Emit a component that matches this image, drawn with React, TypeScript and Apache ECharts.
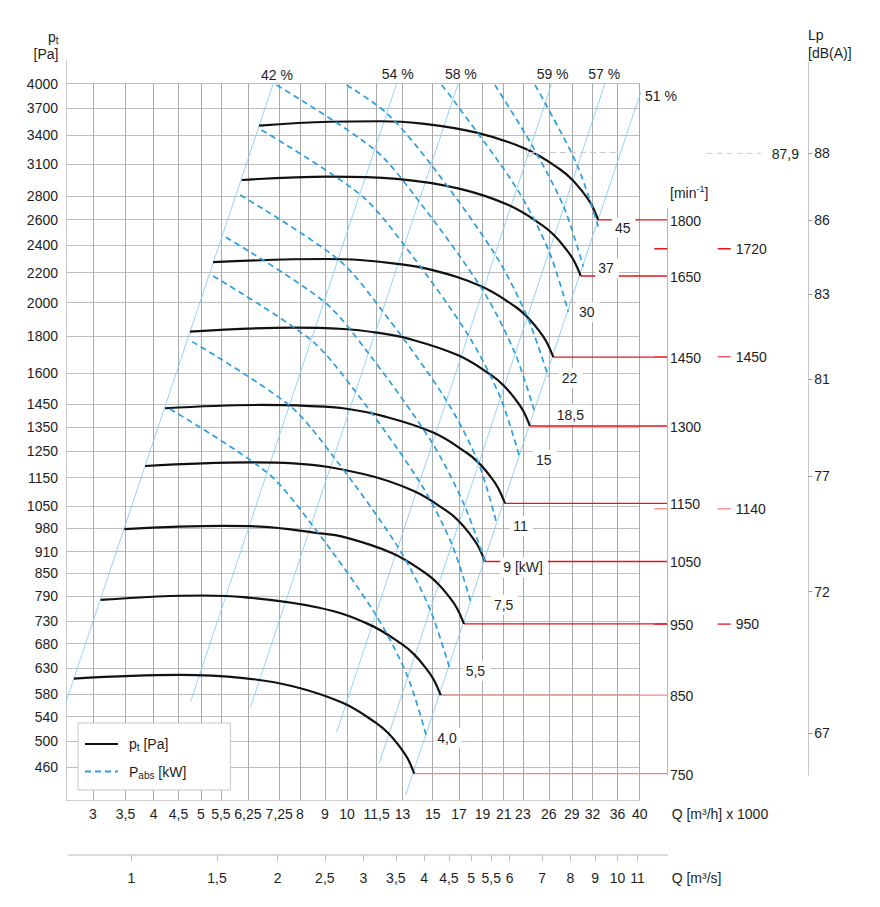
import React, { useEffect, useRef } from "react";
import * as echarts from "echarts";

const FONT = '"Liberation Sans", Arial, Helvetica, sans-serif';
const TEXT = "#1e1e1e";

// ---------------- tick labels ----------------
const flowTicks = [3, 3.5, 4, 4.5, 5, 5.5, 6.25, 7.25, 8, 9, 10, 11.5, 13, 15, 17, 19, 21, 23, 26, 29, 32, 36, 40];
const flowSecTicks = [1, 1.5, 2, 2.5, 3, 3.5, 4, 4.5, 5, 5.5, 6, 7, 8, 9, 10, 11];
const pressureTicks = [460, 500, 540, 580, 630, 680, 730, 790, 850, 910, 980, 1050, 1150, 1250, 1350, 1450, 1600, 1800, 2000, 2200, 2400, 2600, 2800, 3100, 3400, 3700, 4000];
const lpTickRpm = [2000, 1800, 1600, 1400, 1200, 1000, 800];
const lpTickLabels = ["88", "86", "83", "81", "77", "72", "67"];

// ---------------- fan curves pt [Pa] vs Q [m3/h x 1000] ----------------
const speeds = [1800, 1650, 1450, 1300, 1150, 1050, 950, 850, 750];
const pt1800 = [[6.59, 3500], [9.22, 3544], [11.68, 3550], [14.12, 3527], [18.47, 3424], [23.4, 3249], [27.41, 3050], [29.06, 2951], [30.62, 2832], [31.8, 2730], [32.87, 2598]];
const pt1650 = [[6.07, 2948], [9.22, 2979], [12.65, 2958], [17.0, 2868], [21.54, 2721], [25.23, 2554], [26.74, 2471], [28.17, 2372], [29.26, 2287], [30.25, 2176]];
const pt1450 = [[5.3, 2273], [9.08, 2296], [10.63, 2289], [12.45, 2265], [14.93, 2218], [18.92, 2105], [22.16, 1976], [23.49, 1911], [24.75, 1835], [25.7, 1769], [26.57, 1683]];
const pt1300 = [[4.75, 1825], [7.75, 1848], [9.82, 1840], [11.5, 1819], [13.36, 1785], [16.93, 1693], [19.83, 1589], [21.02, 1538], [22.15, 1476], [23.0, 1423], [23.78, 1354]];
const pt1150 = [[4.22, 1432], [6.62, 1447], [8.39, 1442], [9.82, 1432], [11.87, 1397], [15.04, 1326], [17.62, 1244], [18.68, 1204], [19.68, 1156], [20.44, 1114], [21.13, 1060]];
const pt1050 = [[3.84, 1193], [6.31, 1207], [7.75, 1203], [10.8, 1163], [13.68, 1103], [16.03, 1035], [16.99, 1002], [17.9, 961.6], [18.59, 926.9], [19.22, 882]];
const pt950 = [[3.48, 977], [5.56, 987], [6.62, 985], [8.79, 964], [9.78, 954.3], [12.39, 905.5], [14.51, 849.9], [15.38, 822.2], [16.21, 789.3], [16.83, 760.9], [17.4, 724]];
const pt850 = [[3.11, 781], [5.06, 792], [6.12, 788], [8.76, 761.9], [11.09, 722.9], [12.99, 678.5], [13.77, 656.4], [14.51, 630.1], [15.07, 607.4], [15.58, 578]];
const pt750 = [[2.74, 609], [4.53, 616], [6.12, 610], [7.73, 594.5], [9.79, 564.1], [11.47, 529.4], [12.16, 512.2], [12.81, 491.7], [13.3, 474], [13.75, 451]];
const ptCurves = [pt1800, pt1650, pt1450, pt1300, pt1150, pt1050, pt950, pt850, pt750];

// ---------------- absorbed power lines [kW] ----------------
const powerLabels = ["4,0", "5,5", "7,5", "9 [kW]", "11", "15", "18,5", "22", "30", "37", "45"];
const pw40 = [[4.32, 1429], [6.84, 1169], [8.44, 993.5], [11.4, 749], [13.3, 614.5], [14.58, 506]];
const pw55 = [[4.8, 1768], [7.6, 1446], [9.38, 1228], [12.69, 926], [14.79, 760], [16.28, 627]];
const pw75 = [[5.3, 2176], [8.43, 1777], [10.4, 1510], [14.06, 1138], [16.4, 934], [18.04, 769]];
const pw90 = [[5.63, 2460], [8.96, 2007], [11.06, 1705], [14.94, 1286], [17.42, 1055], [19.22, 882]];
const pw110 = [[6.03, 2811], [9.58, 2294], [11.82, 1949], [15.98, 1471], [18.63, 1205], [20.31, 995]];
const pw150 = [[6.67, 3453], [10.62, 2819], [13.11, 2399], [17.72, 1808], [20.66, 1483], [22.68, 1223]];
const pw185 = [[7.16, 3981], [11.39, 3245], [14.06, 2756], [19.01, 2081], [22.15, 1705], [24.36, 1410]];
const pw220 = [[9.98, 3981], [12.07, 3641], [14.89, 3095], [20.13, 2333], [23.47, 1914], [25.94, 1583]];
const pw300 = [[15.65, 3981], [16.51, 3804], [22.33, 2871], [26.03, 2353], [28.52, 1944]];
const pw370 = [[20.15, 3981], [23.94, 3301], [27.92, 2707], [30.62, 2241]];
const pw450 = [[24.36, 3981], [25.56, 3761], [29.79, 3083], [32.87, 2544]];
const powerLines = [pw40, pw55, pw75, pw90, pw110, pw150, pw185, pw220, pw300, pw370, pw450];

// ---------------- efficiency (system) lines ----------------
const effLabels = ["42 %", "54 %", "58 %", "59 %", "57 %", "51 %"];
const eff42 = [[2.64, 565.6], [7.05, 4000]];
const eff54 = [[4.766, 566.1], [12.65, 4000]];
const eff58 = [[6.333, 557.3], [16.93, 4000]];
const eff59 = [[9.517, 513.8], [26.36, 4000]];
const eff57 = [[11.63, 465], [33.93, 4000]];
const eff51 = [[13.2, 421.5], [40.24, 3897]];
const effLines = [eff42, eff54, eff58, eff59, eff57, eff51];

// ---------------- sound level ----------------
const soundRpm = [1720, 1450, 1140, 950];
const soundRefLabel = "87,9";
const soundRefRpm = 2000;
const soundRefPoint = [23.78, 3215];
const soundRefEndQ = 36;

// ---------------- layout (styles, not data) ----------------
const Q_MIN = 2.64;
const Q_MAX_A = 40.05;
const Q_MAX_B = 45.51;
const P_MIN = 414.8;
const P_MAX = 4000;
const QS_MIN = 0.7438;
const QS_MAX = 12.667;
const RPM_MIN = 748.3;
const RPM_MAX = 2311;
const effLabelOffsets = [[-12.3, -8.5], [-15, -9.2], [-13.3, -9.2], [-15, -9.2], [-16.7, -9.2], [4, 4.3]];
const powerLabelOffsets = [[7.6, 0.4], [12.7, 1.4], [19.3, 0], [15.3, 6], [13.6, 2.7], [13, 1.7], [18.7, 1.7], [10.4, 1], [7.7, 0.6], [12, 1.6], [13.7, 1]];
const redColors = ["#e3141c", "#e3141c", "#e3141c", "#e3141c", "#e3141c", "#e3141c", "#e3141c", "#f2877e", "#f2877e"];
const soundColors = ["#e3141c", "#e8484a", "#f2877e", "#e3141c"];
const lpDashRpmAxis = [654.3, 667.3];
const lpDashLpAxis = [717.7, 730.7];
const lpRefDash = [706.7, 761.7];

const fmt = (v: number) => String(Math.round(v * 100) / 100).replace(".", ",");
const lpFmt = (v: number) => {
  let best = 0;
  for (let i = 0; i < lpTickRpm.length; i++) {
    if (Math.abs(lpTickRpm[i] - v) < Math.abs(lpTickRpm[best] - v)) best = i;
  }
  return lpTickLabels[best];
};

const labelFont = { color: TEXT, fontSize: 14, fontFamily: FONT };

function buildOption() {
  const series: any[] = [];
  const gB = { xAxisIndex: 1, yAxisIndex: 1 };
  const gLp = { xAxisIndex: 2, yAxisIndex: 2 };

  effLines.forEach((d, i) => {
    series.push({
      type: "line", ...gB, data: d, symbol: "none", showSymbol: false, silent: true, clip: false, z: 2,
      lineStyle: { color: "#8bcdef", width: 0.9 },
      endLabel: { show: true, formatter: () => effLabels[i], distance: 0, offset: effLabelOffsets[i], ...labelFont },
    });
  });

  speeds.forEach((n, i) => {
    const end = ptCurves[i][ptCurves[i].length - 1];
    series.push({
      type: "line", ...gB, data: [end, [Q_MAX_B, end[1]]], symbol: "none", showSymbol: false, silent: true, z: 3,
      lineStyle: { color: redColors[i], width: 1.3 },
      endLabel: { show: true, formatter: () => String(n), distance: 3, offset: [0, 1], ...labelFont },
    });
  });

  ptCurves.forEach((d) => {
    series.push({
      name: "pt", type: "line", ...gB, data: d, symbol: "none", showSymbol: false, silent: true, z: 4,
      smooth: 0.4,
      itemStyle: { color: "#111111" },
      lineStyle: { color: "#111111", width: 2.2 },
    });
  });

  powerLines.forEach((d, i) => {
    series.push({
      name: "Pabs", type: "line", ...gB, data: d, symbol: "none", showSymbol: false, silent: true, z: 5,
      smooth: 0.3,
      itemStyle: { color: "#2a9fe0" },
      lineStyle: { color: "#2a9fe0", width: 1.7, type: [6, 4] },
      endLabel: {
        show: true, formatter: () => powerLabels[i], distance: 0, offset: powerLabelOffsets[i],
        backgroundColor: "#ffffff", padding: [3, 5, 3, 3], ...labelFont,
      },
    });
  });

  // sound reference point on the 1800 curve
  series.push({
    type: "line", ...gB, data: [soundRefPoint, [soundRefEndQ, soundRefPoint[1]]], symbol: "none", silent: true, z: 6,
    lineStyle: { color: "#c8c8c8", width: 1, type: [6, 4] },
  });
  series.push({
    type: "scatter", ...gB, data: [soundRefPoint], symbol: "circle", symbolSize: 7, silent: true, z: 7,
    itemStyle: { color: "rgba(255,255,255,0)", borderColor: "#b0b0b0", borderWidth: 1 },
  });

  // Lp side marks
  soundRpm.forEach((n, i) => {
    series.push({
      type: "line", ...gLp, data: [[lpDashRpmAxis[0], n], [lpDashRpmAxis[1], n]], symbol: "none", silent: true, z: 6,
      lineStyle: { color: soundColors[i], width: 1.3 },
    });
    series.push({
      type: "line", ...gLp, data: [[lpDashLpAxis[0], n], [lpDashLpAxis[1], n]], symbol: "none", silent: true, z: 6,
      lineStyle: { color: soundColors[i], width: 1.3 },
      endLabel: { show: true, formatter: () => String(n), distance: 5, offset: [0, 0], ...labelFont },
    });
  });
  series.push({
    type: "line", ...gLp, data: [[lpRefDash[0], soundRefRpm], [lpRefDash[1], soundRefRpm]], symbol: "none", silent: true, z: 6,
    lineStyle: { color: "#cfcfcf", width: 1, type: [6, 4] },
    endLabel: { show: true, formatter: () => soundRefLabel, distance: 10, offset: [0, 0.7], ...labelFont },
  });

  const hiddenLog = (gridIndex: number, min: number, max: number) => ({ gridIndex, type: "log", min, max, show: false });

  return {
    animation: false,
    backgroundColor: "#ffffff",
    textStyle: { fontFamily: FONT },
    grid: [
      { left: 66, top: 83.5, width: 573.96, height: 716.5 },
      { left: 66, top: 83.5, width: 600.9, height: 716.5 },
      { left: 654, top: 62, width: 154.3, height: 713 },
      { left: 667, top: 208.3, width: 10, height: 566.7 },
      { left: 69, top: 845, width: 598.3, height: 10 },
    ],
    xAxis: [
      {
        gridIndex: 0, type: "log", min: Q_MIN, max: Q_MAX_A, position: "bottom",
        axisLine: { show: true, onZero: false, lineStyle: { color: "#d0d0d0", width: 1 } },
        axisTick: { show: false, customValues: flowTicks },
        axisLabel: { customValues: flowTicks, formatter: fmt, margin: 7, ...labelFont },
        splitLine: { show: true, lineStyle: { color: "#a9a9a9", width: 1 } },
        minorTick: { show: false }, minorSplitLine: { show: false },
      },
      hiddenLog(1, Q_MIN, Q_MAX_B),
      { gridIndex: 2, type: "value", min: 654, max: 808.3, show: false },
      { gridIndex: 3, type: "value", min: 0, max: 1, show: false },
      {
        gridIndex: 4, type: "log", min: QS_MIN, max: QS_MAX, position: "bottom",
        axisLine: { show: true, onZero: false, lineStyle: { color: "#d0d0d0", width: 1.5 } },
        axisTick: { show: true, customValues: flowSecTicks, length: 6, lineStyle: { color: "#bdbdbd" } },
        axisLabel: { customValues: flowSecTicks, formatter: fmt, margin: 16, ...labelFont },
        splitLine: { show: false },
      },
    ],
    yAxis: [
      {
        gridIndex: 0, type: "log", min: P_MIN, max: P_MAX, position: "left",
        axisLine: { show: true, onZero: false, lineStyle: { color: "#c8c8c8", width: 1 } },
        axisTick: { show: false, customValues: pressureTicks },
        axisLabel: { customValues: pressureTicks, formatter: (v: number) => String(Math.round(v)), margin: 8, ...labelFont },
        splitLine: { show: true, lineStyle: { color: "#bdbdbd", width: 1 } },
        minorTick: { show: false }, minorSplitLine: { show: false },
      },
      hiddenLog(1, P_MIN, P_MAX),
      {
        gridIndex: 2, type: "log", min: RPM_MIN, max: RPM_MAX, position: "right",
        axisLine: { show: true, onZero: false, lineStyle: { color: "#c8c8c8", width: 1 } },
        axisTick: { show: true, customValues: lpTickRpm, length: 4, lineStyle: { color: "#9a9a9a" } },
        axisLabel: { customValues: lpTickRpm, formatter: lpFmt, margin: 6, ...labelFont },
        splitLine: { show: false },
      },
      {
        gridIndex: 3, type: "value", min: 0, max: 1, position: "left",
        axisLine: { show: true, onZero: false, lineStyle: { color: "#b5b5b5", width: 1 } },
        axisTick: { show: false }, axisLabel: { show: false }, splitLine: { show: false },
      },
      { gridIndex: 4, type: "value", min: 0, max: 1, show: false },
    ],
    legend: {
      data: ["pt", "Pabs"], left: 78, top: 723, orient: "vertical", selectedMode: false,
      itemWidth: 33, itemHeight: 14, itemGap: 12, padding: [14, 44, 10, 6],
      backgroundColor: "#ffffff", borderColor: "#c8c8c8", borderWidth: 1, z: 10,
      itemStyle: { opacity: 0 },
      formatter: (name: string) => (name === "pt" ? "{a0|p}{s|t}{a| [Pa]}" : "{a0|P}{s|abs}{a| [kW]}"),
      textStyle: {
        color: TEXT, fontFamily: FONT, fontSize: 14,
        rich: {
          a0: { color: TEXT, fontFamily: FONT, fontSize: 14, padding: [0, 0, 0, 6] },
          a: { color: TEXT, fontFamily: FONT, fontSize: 14 },
          s: { color: TEXT, fontFamily: FONT, fontSize: 10, padding: [7, 0, 0, 0] },
        },
      },
    },
    graphic: [
      { type: "line", silent: true, z: 10, shape: { x1: 66.5, y1: 60, x2: 66.5, y2: 84 }, style: { stroke: "#c8c8c8", lineWidth: 1 } },
      {
        type: "text", silent: true, z: 10, x: 58.5, y: 37,
        style: {
          text: "{a|p}{s|t}", align: "right", verticalAlign: "middle",
          rich: { a: { fontSize: 14, fontFamily: FONT, fill: TEXT }, s: { fontSize: 10, fontFamily: FONT, fill: TEXT, padding: [6, 0, 0, 0] } },
        },
      },
      { type: "text", silent: true, z: 10, x: 58.5, y: 53.5, style: { text: "[Pa]", fontSize: 14, fontFamily: FONT, fill: TEXT, align: "right", verticalAlign: "middle" } },
      { type: "text", silent: true, z: 10, x: 808, y: 35, style: { text: "Lp", fontSize: 14, fontFamily: FONT, fill: TEXT, align: "left", verticalAlign: "middle" } },
      { type: "text", silent: true, z: 10, x: 808, y: 53.3, style: { text: "[dB(A)]", fontSize: 14, fontFamily: FONT, fill: TEXT, align: "left", verticalAlign: "middle" } },
      {
        type: "text", silent: true, z: 10, x: 670, y: 192.7,
        style: {
          text: "{a|[min}{u|-1}{a|]}", align: "left", verticalAlign: "middle",
          rich: { a: { fontSize: 14, fontFamily: FONT, fill: TEXT }, u: { fontSize: 9, fontFamily: FONT, fill: TEXT, padding: [0, 0, 7, 0] } },
        },
      },
      { type: "text", silent: true, z: 10, x: 671.7, y: 814, style: { text: "Q [m³/h] x 1000", fontSize: 14, fontFamily: FONT, fill: TEXT, align: "left", verticalAlign: "middle" } },
      { type: "text", silent: true, z: 10, x: 671.7, y: 877.7, style: { text: "Q [m³/s]", fontSize: 14, fontFamily: FONT, fill: TEXT, align: "left", verticalAlign: "middle" } },
    ],
    series,
  };
}

export default function App() {
  const ref = useRef<HTMLDivElement>(null);
  useEffect(() => {
    document.body.style.margin = "0";
    const chart = echarts.init(ref.current as HTMLDivElement, null, { renderer: "svg" });
    chart.setOption(buildOption() as any);
    return () => chart.dispose();
  }, []);
  return (
    <div
      ref={ref}
      style={{ position: "absolute", left: 0, top: 0, width: 880, height: 907, background: "#ffffff" }}
    />
  );
}
